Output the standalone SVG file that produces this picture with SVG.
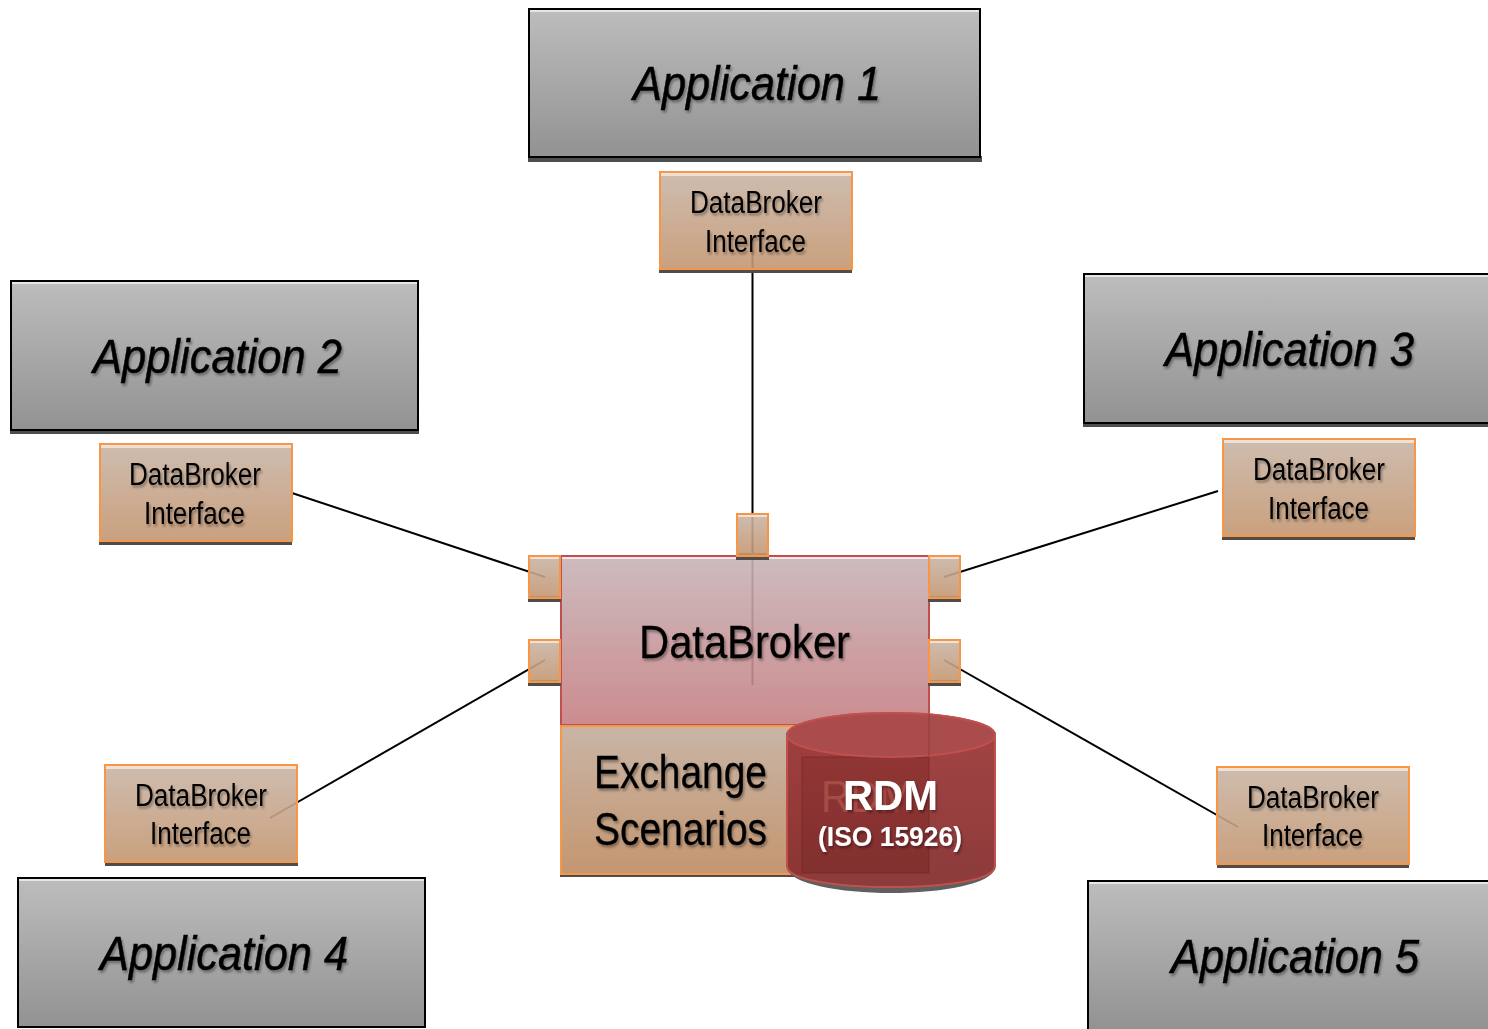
<svg xmlns="http://www.w3.org/2000/svg" width="1488" height="1029" viewBox="0 0 1488 1029">
<style>
text{font-family:"Liberation Sans",Arial,sans-serif}
.app{fill:url(#gApp);stroke:#000;stroke-width:2}
.sh{fill:#4d4d4d}
.hiA{fill:#e6e6e6}
.hiI{fill:#f3e6da;opacity:.9}
.if{fill:url(#gIf);fill-opacity:.9;stroke:#f79646;stroke-width:2}
.at{font-size:48px;font-style:italic;fill:#000;stroke:#000;stroke-width:.5px;filter:url(#ts)}
.it{font-size:31px;fill:#000;filter:url(#ts)}
.mt{font-size:47px;fill:#000;stroke:#000;stroke-width:.3px;filter:url(#ts)}
.cn{stroke:#000;stroke-width:2;fill:none}
</style>
<defs>
<linearGradient id="gApp" x1="0" y1="0" x2="0" y2="1"><stop offset="0" stop-color="#bdbdbd"/><stop offset="1" stop-color="#929292"/></linearGradient>
<linearGradient id="gIf" x1="0" y1="0" x2="0" y2="1"><stop offset="0" stop-color="#c9b5a6"/><stop offset="1" stop-color="#c49670"/></linearGradient>
<linearGradient id="gDb" x1="0" y1="0" x2="0" y2="1"><stop offset="0" stop-color="#c7b4b7"/><stop offset="1" stop-color="#c67f82"/></linearGradient>
<linearGradient id="gCy" x1="0" y1="0" x2="0" y2="1"><stop offset="0" stop-color="#a03a3a"/><stop offset="1" stop-color="#863030"/></linearGradient>
<filter id="ts" x="-5%" y="-20%" width="110%" height="150%"><feDropShadow dx="1.500" dy="2.500" stdDeviation="1" flood-color="#000" flood-opacity=".35"/></filter>
</defs>
<rect width="1488" height="1029" fill="#fff"/>
<g id="connectors">
<path class="cn" d="M752.500 250V685"/>
<path class="cn" d="M292 493L545 577"/>
<path class="cn" d="M944 577L1218 491"/>
<path class="cn" d="M545 660L270 818"/>
<path class="cn" d="M944 660L1238 827"/>
</g>
<g id="databroker">
<rect x="561" y="556" width="368" height="169" fill="url(#gDb)" fill-opacity=".9" stroke="#c0504d" stroke-width="2"/>
<rect x="562" y="557" width="366" height="2" fill="#f4e6e6"/>
<text class="mt" x="639" y="658" textLength="211" lengthAdjust="spacingAndGlyphs">DataBroker</text>
</g>
<g id="exchange">
<rect x="560" y="873" width="241" height="4" class="sh"/>
<rect x="561" y="726" width="241" height="148" fill="url(#gIf)" stroke="#f79646" stroke-width="2"/>
<rect x="802" y="725" width="127" height="148" fill="#c9b09a"/>
<text class="mt" x="594" y="788" textLength="173" lengthAdjust="spacingAndGlyphs">Exchange</text>
<text class="mt" x="594" y="845" textLength="173" lengthAdjust="spacingAndGlyphs">Scenarios</text>
</g>
<g id="port-top"><rect class="sh" x="736" y="553" width="33" height="7"/><rect class="if" x="737" y="514" width="31" height="42"/><rect class="hiI" x="738" y="515" width="29" height="2"/></g>
<g id="port-left-1"><rect class="sh" x="528" y="596" width="33" height="6"/><rect class="if" x="529" y="556" width="31" height="42"/><rect class="hiI" x="530" y="557" width="29" height="2"/></g>
<g id="port-left-2"><rect class="sh" x="528" y="680" width="33" height="6"/><rect class="if" x="529" y="640" width="31" height="42"/><rect class="hiI" x="530" y="641" width="29" height="2"/></g>
<g id="port-right-1"><rect class="sh" x="928" y="596" width="33" height="6"/><rect class="if" x="929" y="556" width="31" height="42"/><rect class="hiI" x="930" y="557" width="29" height="2"/></g>
<g id="port-right-2"><rect class="sh" x="928" y="680" width="33" height="6"/><rect class="if" x="929" y="640" width="31" height="42"/><rect class="hiI" x="930" y="641" width="29" height="2"/></g>
<g id="rdm">
<path d="M787 868C790 884 840 893 891 893S992 884 995 868C985 880 940 887 891 887S797 880 787 868Z" fill="#5f5f5f"/>
<path d="M787 735C787 722 835 713 891 713S995 722 995 735V866C995 880 945 887 891 887S787 880 787 866Z" fill="url(#gCy)" fill-opacity=".95" stroke="#c0504d" stroke-width="2"/>
<rect x="802" y="757" width="127" height="116" fill="#500a0a" fill-opacity=".16" stroke="#6e1e1e" stroke-opacity=".5"/>
<ellipse cx="891" cy="735" rx="104" ry="22" fill="#aa4c4c" stroke="#c0504d" stroke-width="2"/>
<path d="M929 714V756" stroke="#8e3a3a" fill="none"/>
<text x="821" y="812" font-size="44" fill="#a64c46" textLength="92" lengthAdjust="spacingAndGlyphs">RDM</text>
<text x="843" y="810" font-size="42" font-weight="700" fill="#fff" textLength="95" lengthAdjust="spacingAndGlyphs" filter="url(#ts)">RDM</text>
<text x="818" y="846" font-size="27" font-weight="700" fill="#fff" textLength="144" lengthAdjust="spacingAndGlyphs" filter="url(#ts)">(ISO 15926)</text>
</g>
<g id="app1"><rect class="sh" x="528" y="156" width="454" height="6"/><rect class="app" x="529" y="9" width="451" height="148"/><rect class="hiA" x="530" y="10" width="449" height="2"/><text class="at" x="633" y="100" textLength="248" lengthAdjust="spacingAndGlyphs">Application 1</text></g>
<g id="if1"><rect class="sh" x="659" y="268" width="193" height="5"/><rect class="if" x="660" y="172" width="192" height="97"/><rect class="hiI" x="661" y="173" width="190" height="3"/><text class="it" x="690" y="213" textLength="132" lengthAdjust="spacingAndGlyphs">DataBroker</text><text class="it" x="705" y="252" textLength="101" lengthAdjust="spacingAndGlyphs">Interface</text></g>
<g id="app2"><rect class="sh" x="10" y="429" width="409" height="5"/><rect class="app" x="11" y="281" width="407" height="149"/><rect class="hiA" x="12" y="282" width="405" height="2"/><text class="at" x="93" y="373" textLength="249" lengthAdjust="spacingAndGlyphs">Application 2</text></g>
<g id="if2"><rect class="sh" x="99" y="540" width="193" height="5"/><rect class="if" x="100" y="444" width="192" height="97"/><rect class="hiI" x="101" y="445" width="190" height="3"/><text class="it" x="129" y="485" textLength="132" lengthAdjust="spacingAndGlyphs">DataBroker</text><text class="it" x="144" y="524" textLength="101" lengthAdjust="spacingAndGlyphs">Interface</text></g>
<g id="app3"><rect class="sh" x="1083" y="422" width="406" height="5"/><rect class="app" x="1084" y="274" width="406" height="149"/><rect class="hiA" x="1085" y="275" width="403" height="2"/><text class="at" x="1165" y="366" textLength="249" lengthAdjust="spacingAndGlyphs">Application 3</text></g>
<g id="if3"><rect class="sh" x="1222" y="535" width="193" height="5"/><rect class="if" x="1223" y="439" width="192" height="97"/><rect class="hiI" x="1224" y="440" width="190" height="3"/><text class="it" x="1253" y="480" textLength="132" lengthAdjust="spacingAndGlyphs">DataBroker</text><text class="it" x="1268" y="519" textLength="101" lengthAdjust="spacingAndGlyphs">Interface</text></g>
<g id="app4"><rect class="app" x="18" y="878" width="407" height="149"/><rect class="hiA" x="19" y="879" width="405" height="2"/><text class="at" x="100" y="970" textLength="248" lengthAdjust="spacingAndGlyphs">Application 4</text></g>
<g id="if4"><rect class="sh" x="105" y="861" width="193" height="5"/><rect class="if" x="105" y="765" width="192" height="97"/><rect class="hiI" x="106" y="766" width="190" height="3"/><text class="it" x="135" y="806" textLength="132" lengthAdjust="spacingAndGlyphs">DataBroker</text><text class="it" x="150" y="844" textLength="101" lengthAdjust="spacingAndGlyphs">Interface</text></g>
<g id="app5"><rect class="app" x="1088" y="881" width="402" height="149"/><rect class="hiA" x="1089" y="882" width="399" height="2"/><text class="at" x="1171" y="973" textLength="248" lengthAdjust="spacingAndGlyphs">Application 5</text></g>
<g id="if5"><rect class="sh" x="1217" y="863" width="192" height="5"/><rect class="if" x="1217" y="767" width="192" height="97"/><rect class="hiI" x="1218" y="768" width="190" height="3"/><text class="it" x="1247" y="808" textLength="132" lengthAdjust="spacingAndGlyphs">DataBroker</text><text class="it" x="1262" y="846" textLength="101" lengthAdjust="spacingAndGlyphs">Interface</text></g>
</svg>
